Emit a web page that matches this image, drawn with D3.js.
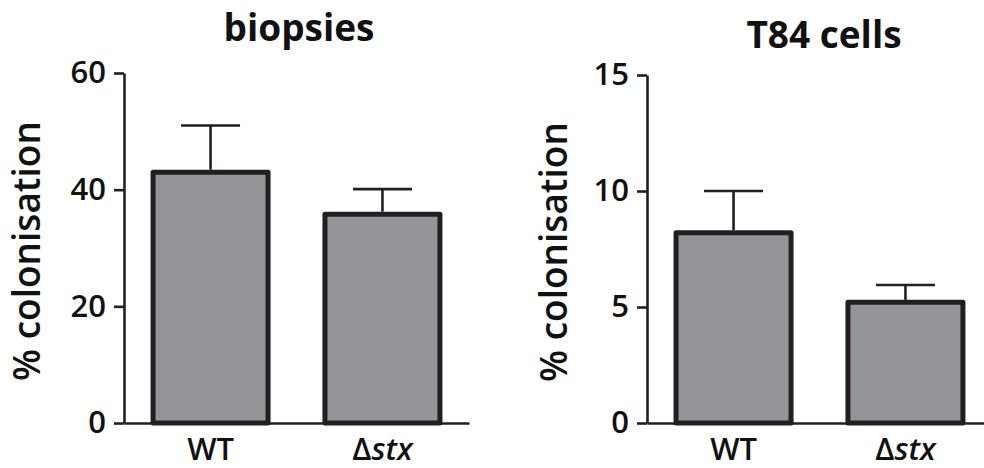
<!DOCTYPE html>
<html>
<head>
<meta charset="utf-8">
<script src="https://cdn.jsdelivr.net/npm/d3@7"></script>
<style>
  html, body { margin: 0; padding: 0; background: #fff; }
  svg { display: block; }
  text { font-family: "Open Sans", "Noto Sans", sans-serif; fill: #111; }
</style>
</head>
<body>
<svg id="chart" width="984" height="468"></svg>
<script>
// Colonisation data: mean and SEM per strain
const categories = ["WT", "Δstx"];
const biopsyMeans = [43.0, 35.8];
const biopsyErrors = [8.0, 4.3];
const biopsyTicks = [0, 20, 40, 60];
const t84Means = [8.2, 5.2];
const t84Errors = [1.8, 0.75];
const t84Ticks = [0, 5, 10, 15];
const titles = ["biopsies", "T84 cells"];
const yLabel = "% colonisation";

const svg = d3.select("#chart");
const ink = "#231f20";
const barFill = "#939598";

const panels = [
  { title: titles[0], means: biopsyMeans, errors: biopsyErrors, ticks: biopsyTicks,
    left: 124, right: 469, xEnd: 469, top: 73, bottom: 423, titleX: 299, titleY: 41, yLabelX: 40 },
  { title: titles[1], means: t84Means, errors: t84Errors, ticks: t84Ticks,
    left: 647, right: 992, xEnd: 984, top: 75, bottom: 423, titleX: 824, titleY: 48, yLabelX: 567 }
];

panels.forEach(p => {
  const g = svg.append("g");
  const yMax = p.ticks[p.ticks.length - 1];
  const y = d3.scaleLinear().domain([0, yMax]).range([p.bottom, p.top]);
  const x = d3.scaleBand().domain(categories).range([p.left, p.right])
    .paddingInner(0.331).paddingOuter(0.169);

  // bars
  g.selectAll("rect.bar").data(categories).join("rect")
    .attr("class", "bar")
    .attr("x", c => x(c))
    .attr("width", x.bandwidth())
    .attr("y", (c, i) => y(p.means[i]))
    .attr("height", (c, i) => y(0) - y(p.means[i]))
    .attr("fill", barFill)
    .attr("stroke", ink)
    .attr("stroke-width", 5)
    .attr("stroke-linejoin", "round");

  // error bars (upper only)
  const capW = 59;
  categories.forEach((c, i) => {
    const cx = x(c) + x.bandwidth() / 2;
    g.append("line")
      .attr("x1", cx).attr("x2", cx)
      .attr("y1", y(p.means[i]) - 2.5)
      .attr("y2", y(p.means[i] + p.errors[i]))
      .attr("stroke", ink).attr("stroke-width", 2.6);
    g.append("line")
      .attr("x1", cx - capW / 2).attr("x2", cx + capW / 2)
      .attr("y1", y(p.means[i] + p.errors[i]))
      .attr("y2", y(p.means[i] + p.errors[i]))
      .attr("stroke", ink).attr("stroke-width", 2.6);
  });

  // y axis
  const yAxis = d3.axisLeft(y).tickValues(p.ticks).tickSize(10).tickSizeOuter(0).tickPadding(8);
  const ya = g.append("g").attr("transform", `translate(${p.left},0)`).call(yAxis);
  ya.select(".domain").attr("stroke", ink).attr("stroke-width", 2.6);
  ya.selectAll(".tick line").attr("stroke", ink).attr("stroke-width", 2.6);
  ya.selectAll(".tick text")
    .attr("font-size", 31).attr("font-weight", 600)
    .attr("fill", "#111")
    .style("font-family", '"Open Sans", sans-serif');

  // x axis line
  const xs = d3.scaleLinear().domain([0, 1]).range([p.left, p.xEnd]);
  const xAxis = d3.axisBottom(xs).tickValues([]).tickSizeOuter(0);
  const xa = g.append("g").attr("transform", `translate(0,${p.bottom})`).call(xAxis);
  xa.select(".domain").attr("stroke", ink).attr("stroke-width", 2.6);

  // category labels
  categories.forEach(c => {
    const t = g.append("text")
      .attr("x", x(c) + x.bandwidth() / 2)
      .attr("y", 460)
      .attr("text-anchor", "middle")
      .attr("font-size", 31)
      .attr("font-weight", 600);
    if (c.startsWith("Δ")) {
      t.append("tspan").text("Δ");
      t.append("tspan").attr("font-style", "italic").text(c.slice(1));
    } else {
      t.text(c);
    }
  });

  // y label
  g.append("text")
    .attr("transform", `translate(${p.yLabelX},${(p.top + p.bottom) / 2 + 3}) rotate(-90)`)
    .attr("text-anchor", "middle")
    .attr("font-size", 37)
    .attr("font-weight", 600)
    .text(yLabel);

  // title
  g.append("text")
    .attr("x", p.titleX).attr("y", p.titleY)
    .attr("text-anchor", "middle")
    .attr("font-size", 37)
    .attr("font-weight", 700)
    .text(p.title);
});
</script>
</body>
</html>
